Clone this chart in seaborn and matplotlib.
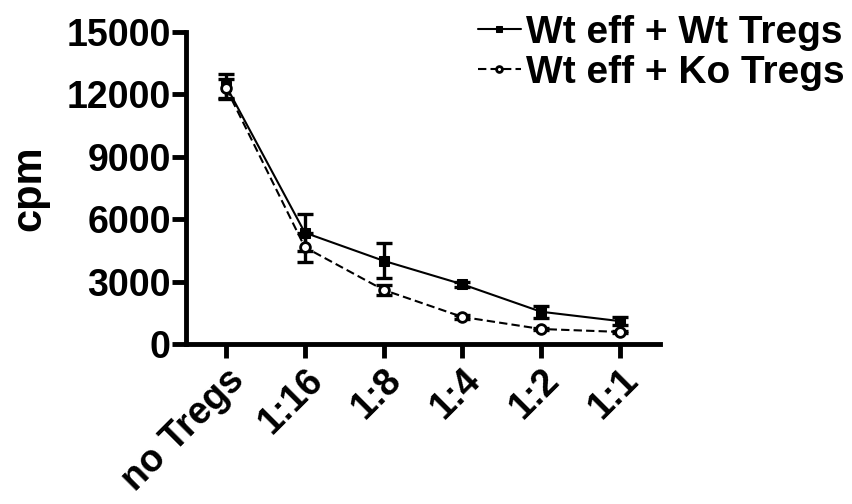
import numpy as np
import pandas as pd
import matplotlib
matplotlib.use("Agg")
import matplotlib.pyplot as plt
import seaborn as sns

ratios = ['no Tregs', '1:16', '1:8', '1:4', '1:2', '1:1']
wt_mean = [12400, 5350, 4000, 2870, 1550, 1100]
wt_err = [600, 900, 850, 120, 280, 200]
ko_mean = [12300, 4650, 2600, 1300, 720, 580]
ko_err = [450, 700, 250, 80, 60, 50]
series = ['Wt eff + Wt Tregs', 'Wt eff + Ko Tregs']

df = pd.DataFrame({
    'pos': list(range(len(ratios))) * 2,
    'cpm': wt_mean + ko_mean,
    'group': [series[0]] * len(ratios) + [series[1]] * len(ratios),
})

sns.set_style("ticks", {'axes.edgecolor': 'black', 'text.color': 'black',
                        'xtick.color': 'black', 'ytick.color': 'black',
                        'axes.labelcolor': 'black'})
plt.rcParams['font.family'] = ['Liberation Sans', 'DejaVu Sans']
plt.rcParams['font.weight'] = 'bold'

fig = plt.figure(figsize=(8.52, 5.04), dpi=100)
ax = fig.add_axes([0.2183, 0.3175, 0.7746 - 0.2183, 0.9365 - 0.3175])

ax.errorbar(range(len(ratios)), wt_mean, yerr=wt_err, fmt='none', ecolor='black',
            elinewidth=2.4, capsize=6, capthick=2.4, zorder=3)
ax.errorbar(range(len(ratios)), ko_mean, yerr=ko_err, fmt='none', ecolor='black',
            elinewidth=2.4, capsize=6, capthick=2.4, zorder=3)

sns.lineplot(data=df, x='pos', y='cpm', hue='group', style='group',
             palette=['black', 'black'], dashes=[(None, None), (4, 2)],
             markers=['s', 'o'], markersize=7, linewidth=1.5,
             markeredgecolor='black', ax=ax, zorder=4)

# white-filled circles for the Ko series
for line in ax.lines:
    if line.get_marker() == 'o':
        line.set_markerfacecolor('white')
        line.set_markeredgewidth(2)

ax.set_xlim(-0.51, 5.51)
ax.set_ylim(0, 15000)
ax.set_yticks([0, 3000, 6000, 9000, 12000, 15000])
ax.set_xticks(range(len(ratios)))
ax.set_xticklabels(ratios, rotation=45, ha='right', rotation_mode='anchor')
ax.tick_params(axis='both', labelsize=27, width=3.5, length=10, pad=3,
               color='black', labelcolor='black')
ax.tick_params(axis='y', pad=1)
for lab in ax.get_xticklabels() + ax.get_yticklabels():
    lab.set_fontweight('bold')
for side in ['left', 'bottom']:
    ax.spines[side].set_linewidth(3.5)
    ax.spines[side].set_color('black')
sns.despine(ax=ax)

ax.set_xlabel('')
ax.set_ylabel('cpm', fontsize=30, fontweight='bold', labelpad=12, color='black')

handles, labels = ax.get_legend_handles_labels()
ax.legend(handles, labels, loc='upper right', bbox_to_anchor=(1.033, 1.04),
          bbox_transform=fig.transFigure, frameon=False, fontsize=28,
          handlelength=1.1, handletextpad=0.15, labelspacing=0.1, markerscale=0.6)
for t in ax.get_legend().get_texts():
    t.set_fontweight('bold')
    t.set_color('black')

fig.savefig('out.png', dpi=100)
